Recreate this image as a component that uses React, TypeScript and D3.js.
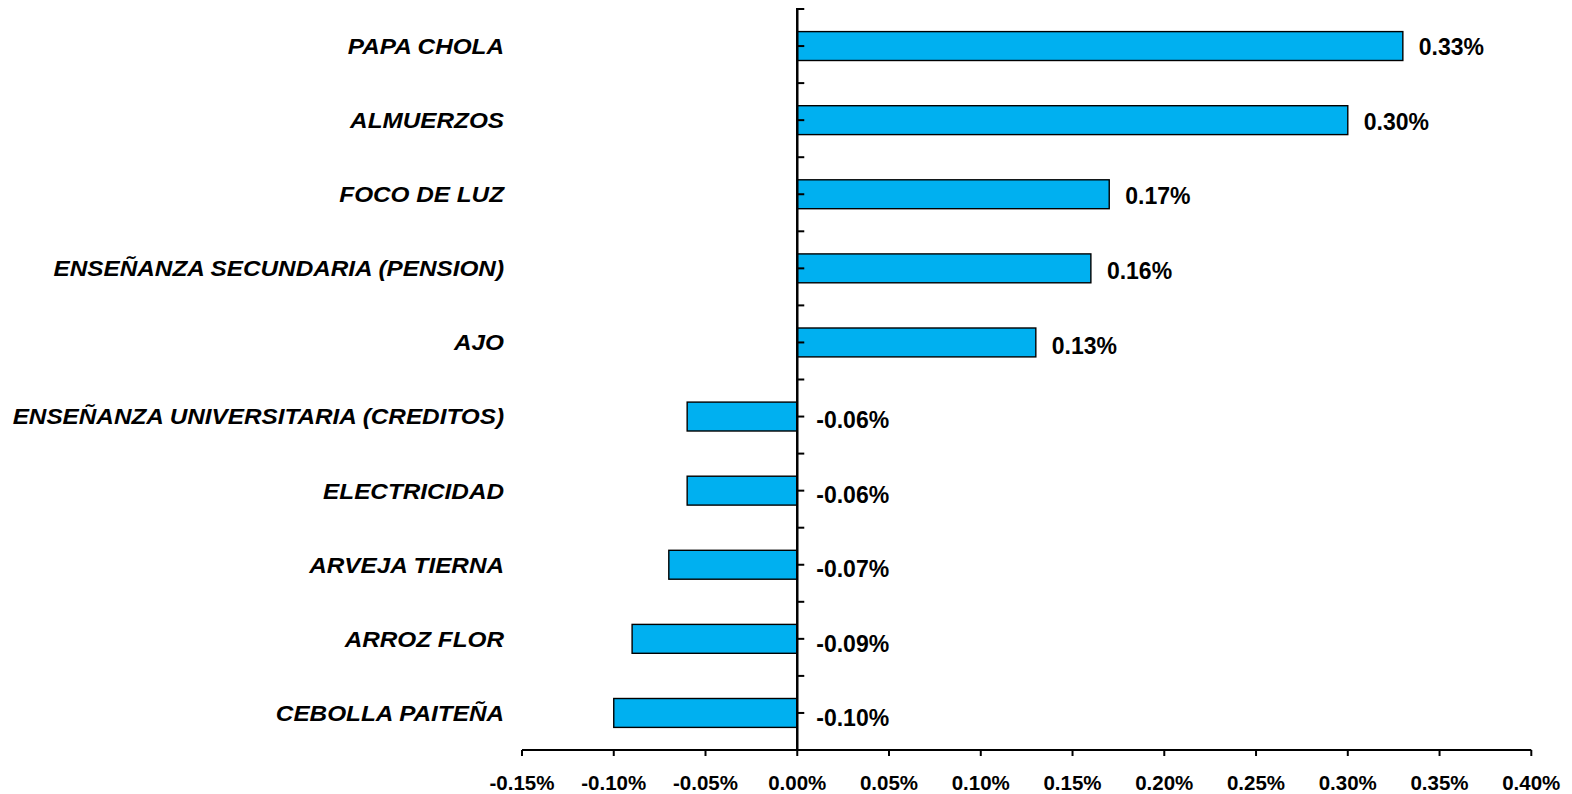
import React from "react";
import * as d3 from "d3";

const categories = [
  "PAPA CHOLA",
  "ALMUERZOS",
  "FOCO DE LUZ",
  "ENSEÑANZA SECUNDARIA (PENSION)",
  "AJO",
  "ENSEÑANZA UNIVERSITARIA (CREDITOS)",
  "ELECTRICIDAD",
  "ARVEJA TIERNA",
  "ARROZ FLOR",
  "CEBOLLA PAITEÑA",
];
const values = [0.33, 0.3, 0.17, 0.16, 0.13, -0.06, -0.06, -0.07, -0.09, -0.1];
const xTicks = [-0.15, -0.1, -0.05, 0, 0.05, 0.1, 0.15, 0.2, 0.25, 0.3, 0.35, 0.4];

export default function App() {
  const W = 1572, H = 794;
  const x = d3.scaleLinear().domain([-0.15, 0.4]).range([522, 1531.3]);
  const y = d3.scaleBand<string>().domain(categories).range([9, 750]).paddingInner(0.61).paddingOuter(0.305);
  const step = y.step();
  const fmt = (v: number) => v.toFixed(2) + "%";
  const x0 = x(0);
  const halfTicks = d3.range(0, categories.length * 2 + 1).map((i) => 9 + (i * step) / 2);
  return (
    <svg width={W} height={H} style={{ position: "absolute", left: 0, top: 0, background: "#fff" }}
      fontFamily="'Liberation Sans', Arial, sans-serif">
      {categories.map((c, i) => {
        const v = values[i];
        const yb = y(c)!;
        const bh = y.bandwidth();
        return (
          <g key={c}>
            <rect x={Math.min(x(v), x0)} y={yb} width={Math.abs(x(v) - x0)} height={bh}
              fill="#00B0F0" stroke="#000" strokeWidth={1.4} />
            <text x={v >= 0 ? x(v) + 16 : x0 + 19} y={yb + bh / 2 + 1 + i * 0.45} dy="0.36em"
              fontSize={23} fontWeight="bold" fill="#000">{fmt(v)}</text>
            <text transform={`translate(504,${yb + bh / 2}) scale(1.105,1)`} dy="0.36em" textAnchor="end"
              fontSize={22} fontWeight="bold" fontStyle="italic" fill="#000">{c}</text>
          </g>
        );
      })}
      {/* y axis */}
      <line x1={x0} x2={x0} y1={8} y2={751} stroke="#000" strokeWidth={2.5} />
      {halfTicks.map((t, i) => (
        <line key={i} x1={x0} x2={x0 + 7} y1={t} y2={t} stroke="#000" strokeWidth={2} />
      ))}
      {/* x axis */}
      <line x1={x(-0.15)} x2={x(0.4)} y1={750} y2={750} stroke="#000" strokeWidth={2} />
      {xTicks.map((t) => (
        <g key={t}>
          <line x1={x(t)} x2={x(t)} y1={750} y2={756} stroke="#000" strokeWidth={2} />
          <text x={x(t)} y={790} textAnchor="middle" fontSize={20.5} fontWeight="bold" fill="#000">
            {fmt(t)}
          </text>
        </g>
      ))}
    </svg>
  );
}
